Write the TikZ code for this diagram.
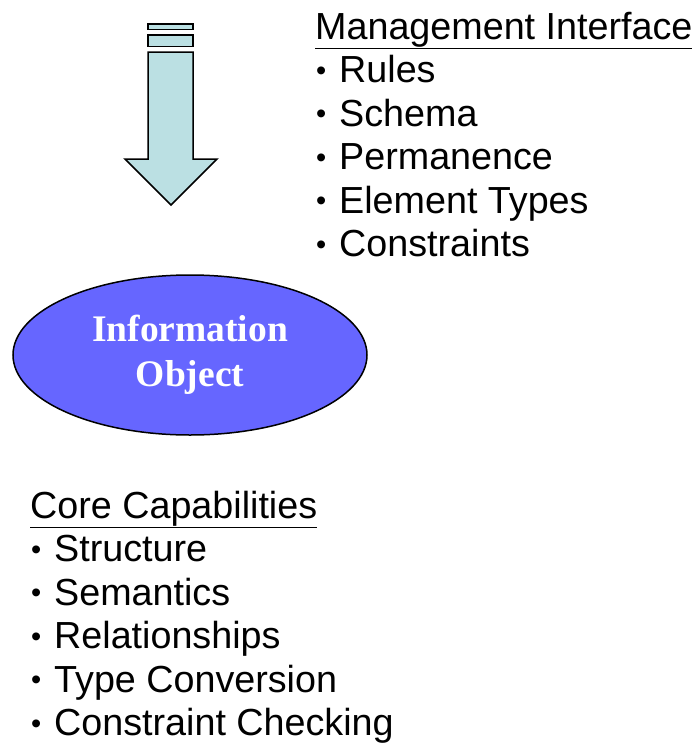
\documentclass[tikz,border=0pt]{standalone}
\usepackage{fontspec}
\setmainfont{Liberation Sans}
\newfontfamily\objfont{Liberation Serif}
\usetikzlibrary{shapes.geometric}

\definecolor{arrowfill}{HTML}{BBE0E3}
\definecolor{objfill}{HTML}{6666FF}

% smaller bullet, as in the slide
\newcommand\bul{\makebox[24pt][l]{\hspace{1pt}\raisebox{2.5pt}{\fontsize{29}{29}\selectfont•}}}

\begin{document}
\begin{tikzpicture}[x=1pt, y=-1pt,
    every node/.style={inner sep=0pt, anchor=base west},
    listitem/.style={font=\fontsize{37.7}{44}\selectfont},
    stripe/.style={draw, fill=arrowfill, line width=1.5pt}]
    \useasboundingbox (0,0) rectangle (696,745);

    % striped arrow
    \draw[stripe] (148,24) rectangle (193,29.5);
    \draw[stripe] (148,35) rectangle (193,46.5);
    \draw[stripe, line join=miter] (148,52) -- (193,52) -- (193,159) -- (217,159)
        -- (171,205) -- (125,159) -- (148,159) -- cycle;

    % object
    \node(obj)[ellipse, draw, line width=1.5pt, fill=objfill, anchor=center,
        minimum width=354pt, minimum height=160pt, align=center,
        text=white, font=\objfont\bfseries\fontsize{37.5}{44.5}\selectfont]
        at (190,355) {Information\\Object};

    % management interface
    \node(mgmt)[listitem] at (315,39) {\underline{Management Interface}};
    \node(m1)[listitem] at (315,82.5) {\bul Rules};
    \node(m2)[listitem] at (315,126) {\bul Schema};
    \node(m3)[listitem] at (315,169.5) {\bul Permanence};
    \node(m4)[listitem] at (315,213) {\bul Element Types};
    \node(m5)[listitem] at (315,256.5) {\bul Constraints};

    % core capabilities
    \node(core)[listitem] at (30,518) {\underline{Core Capabilities}};
    \node(c1)[listitem] at (30,561.5) {\bul Structure};
    \node(c2)[listitem] at (30,605) {\bul Semantics};
    \node(c3)[listitem] at (30,648.5) {\bul Relationships};
    \node(c4)[listitem] at (30,692) {\bul Type Conversion};
    \node(c5)[listitem] at (30,735.5) {\bul Constraint Checking};
\end{tikzpicture}
\end{document}
